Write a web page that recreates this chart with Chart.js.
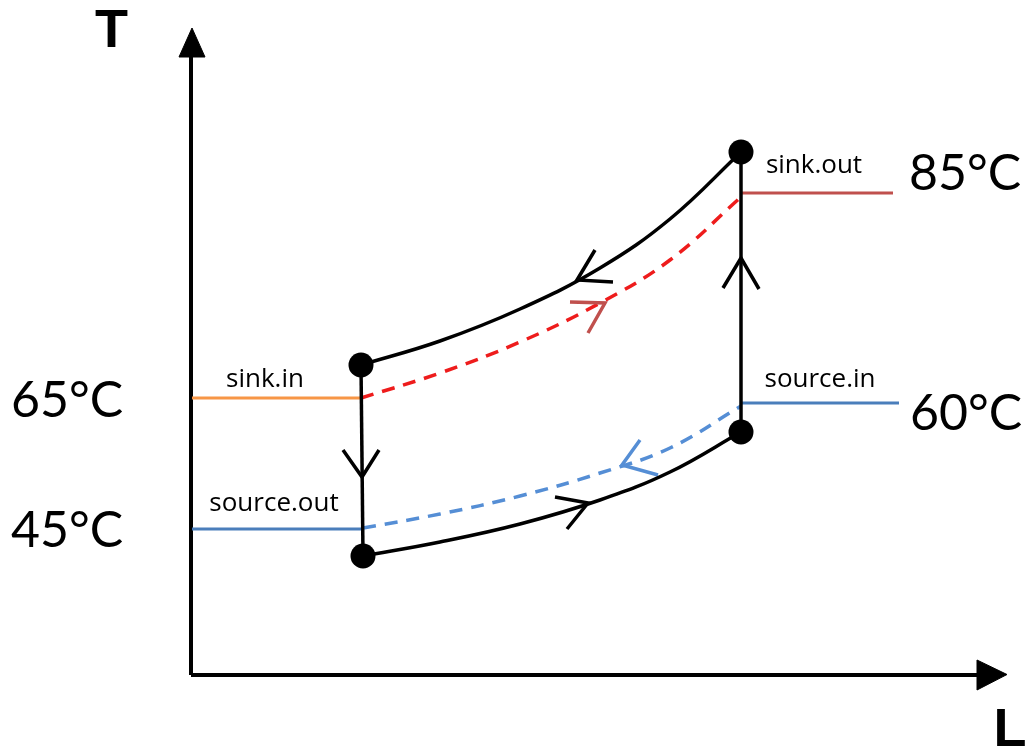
<!DOCTYPE html>
<html>
<head>
<meta charset="utf-8">
<script src="https://cdn.jsdelivr.net/npm/chart.js@4.4.1/dist/chart.umd.min.js"></script>
<style>
html, body { margin: 0; padding: 0; background: #fff; }
#wrap { width: 1027px; height: 749px; position: relative; }
</style>
</head>
<body>
<div id="wrap"><canvas id="diagrama"></canvas></div>
<script>
// ejes (unidades del diagrama: L horizontal, T vertical)
const ejeL = [{x: 0, y: 0}, {x: 78.6, y: 0}];
const ejeT = [{x: 0, y: 0}, {x: 0, y: 61.8}];
const puntaL = [{x: 78.6, y: 1.5}, {x: 81.6, y: 0.05}, {x: 78.6, y: -1.5}, {x: 78.6, y: 1.5}];
const puntaT = [{x: -1.2, y: 61.8}, {x: 0.1, y: 64.7}, {x: 1.4, y: 61.8}, {x: -1.2, y: 61.8}];

// estados del ciclo
const estados = [{x: 17.0, y: 31.0}, {x: 17.2, y: 11.9}, {x: 55.0, y: 24.3}, {x: 55.0, y: 52.3}];

// curvas del ciclo
const curvaSuperior = [{x: 17.0, y: 31.0}, {x: 24.9, y: 33.4}, {x: 32.9, y: 36.6}, {x: 40.9, y: 40.7}, {x: 47.9, y: 45.6}, {x: 55.0, y: 52.3}];
const curvaInferior = [{x: 17.2, y: 11.9}, {x: 24.9, y: 13.3}, {x: 32.9, y: 15.1}, {x: 40.9, y: 17.5}, {x: 47.9, y: 20.3}, {x: 55.0, y: 24.3}];
const bajada = [{x: 17.0, y: 31.0}, {x: 17.2, y: 11.9}];
const subida = [{x: 55.0, y: 24.3}, {x: 55.0, y: 52.3}];

// sumidero y fuente
const sumidero = [{x: 17.0, y: 27.7}, {x: 24.9, y: 30.2}, {x: 32.9, y: 33.3}, {x: 40.9, y: 37.2}, {x: 47.9, y: 41.5}, {x: 55.0, y: 47.8}];
const fuente = [{x: 17.2, y: 14.7}, {x: 24.9, y: 16.1}, {x: 32.9, y: 17.9}, {x: 40.9, y: 20.2}, {x: 47.9, y: 22.7}, {x: 55.0, y: 26.9}];
const sinkIn = [{x: 0.1, y: 27.7}, {x: 17.0, y: 27.7}];
const sourceOut = [{x: 0.1, y: 14.6}, {x: 17.2, y: 14.6}];
const sinkOut = [{x: 55.0, y: 48.2}, {x: 70.2, y: 48.2}];
const sourceIn = [{x: 55.0, y: 27.2}, {x: 70.8, y: 27.2}];

// flechas abiertas
const flechaBajada = [{x: 15.2, y: 22.5}, {x: 17.1, y: 19.8}, {x: 18.8, y: 22.5}];
const flechaSubida = [{x: 53.2, y: 38.7}, {x: 55.0, y: 41.7}, {x: 56.8, y: 38.6}];
const flechaSuperior = [{x: 42.2, y: 39.3}, {x: 38.6, y: 39.5}, {x: 40.4, y: 42.5}];
const flechaInferior = [{x: 36.4, y: 17.8}, {x: 39.7, y: 17.2}, {x: 37.6, y: 14.6}];
const flechaSumidero = [{x: 37.9, y: 37.3}, {x: 41.4, y: 37.2}, {x: 39.7, y: 34.2}];
const flechaFuente = [{x: 44.9, y: 23.5}, {x: 43.1, y: 21.0}, {x: 46.7, y: 20.0}];

// textos
const etiquetas = ['T', 'L', 'sink.in', 'source.out', 'sink.out', 'source.in', '85°C', '60°C', '65°C', '45°C'];
const posEtiquetas = [{x: -7.95, y: 62.8}, {x: 81.9, y: -7.1}, {x: 7.4, y: 28.8}, {x: 8.3, y: 16.4}, {x: 62.3, y: 50.2}, {x: 62.9, y: 28.8}, {x: 77.4, y: 48.5}, {x: 77.5, y: 24.5}, {x: -12.4, y: 25.8}, {x: -12.4, y: 12.8}];
const fuentes = ['bold 54px "Liberation Sans"', 'bold 54px "Liberation Sans"', '26px "Open Sans"', '26px "Open Sans"', '26px "Open Sans"', '26px "Open Sans"', '50px Lato', '50px Lato', '50px Lato', '50px Lato'];

function linea(data, color, ancho, extra) {
    return Object.assign({
        data: data,
        showLine: true,
        borderColor: color,
        borderWidth: ancho,
        pointRadius: 0,
        tension: 0,
        fill: false,
        clip: false
    }, extra || {});
}

const curva = {tension: 0.4};
const rayas = {tension: 0.4, borderDash: [13, 9]};
const relleno = {fill: 'shape', backgroundColor: '#000'};

const textos = {
    id: 'textos',
    afterDatasetsDraw(chart) {
        const ctx = chart.ctx;
        const sx = chart.scales.x;
        const sy = chart.scales.y;
        etiquetas.forEach((t, i) => {
            ctx.save();
            ctx.font = fuentes[i];
            ctx.fillStyle = '#000';
            ctx.textAlign = 'center';
            ctx.textBaseline = 'alphabetic';
            ctx.fillText(t, sx.getPixelForValue(posEtiquetas[i].x), sy.getPixelForValue(posEtiquetas[i].y));
            ctx.restore();
        });
    }
};

new Chart(document.getElementById('diagrama'), {
    type: 'scatter',
    data: {
        datasets: [
            {data: estados, pointRadius: 12.5, pointHoverRadius: 12.5, backgroundColor: '#000', borderWidth: 0, showLine: false, clip: false},
            linea(curvaSuperior, '#000', 3.5, curva),
            linea(curvaInferior, '#000', 3.5, curva),
            linea(bajada, '#000', 3.5),
            linea(subida, '#000', 3.5),
            linea(flechaBajada, '#000', 3.5),
            linea(flechaSubida, '#000', 3.5),
            linea(flechaSuperior, '#000', 3.5),
            linea(flechaInferior, '#000', 3.5),
            linea(flechaSumidero, '#c0504d', 3.5),
            linea(flechaFuente, '#558ed5', 3.5),
            linea(sumidero, '#ee1c1c', 3.5, rayas),
            linea(fuente, '#558ed5', 3.5, rayas),
            linea(sinkIn, '#f79646', 3),
            linea(sourceOut, '#4a7ebb', 3),
            linea(sinkOut, '#c0504d', 3),
            linea(sourceIn, '#4a7ebb', 3),
            linea(ejeL, '#000', 4),
            linea(ejeT, '#000', 4),
            linea(puntaL, '#000', 1, relleno),
            linea(puntaT, '#000', 1, relleno)
        ]
    },
    options: {
        responsive: true,
        maintainAspectRatio: false,
        animation: false,
        layout: {padding: 0, autoPadding: false},
        plugins: {legend: {display: false}, tooltip: {enabled: false}},
        scales: {
            x: {type: 'linear', min: -19.1, max: 83.6, display: false},
            y: {type: 'linear', min: -7.4, max: 67.5, display: false}
        }
    },
    plugins: [textos]
});
</script>
</body>
</html>
